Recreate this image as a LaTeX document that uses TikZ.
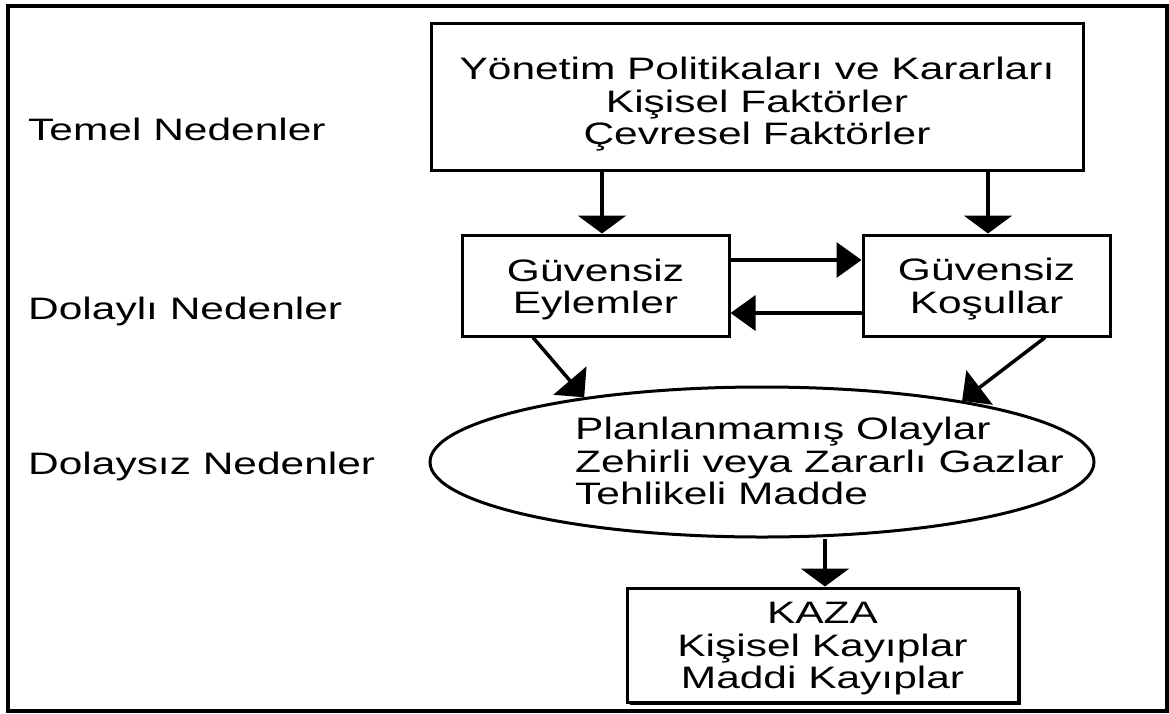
\documentclass[tikz,border=0pt]{standalone}
\usepackage{fontspec}
\setmainfont{Liberation Sans}[FakeStretch=1.37]
\usetikzlibrary{arrows.meta,shapes.geometric,shadows}
\newcommand\pushdn[1]{\rule{0pt}{#1}}
\begin{document}
\begin{tikzpicture}[x=1pt,y=-1pt,
  txt/.style={font=\fontsize{31}{32.5}\selectfont, inner sep=0pt},
  boxnode/.style={txt, draw, line width=3pt, align=center},
  arrV/.style={line width=3.5pt, -{Triangle[width=48pt,length=18pt]}},
  arrH/.style={line width=3.5pt, -{Triangle[width=35pt,length=25pt]}},
  arrD/.style={line width=3.5pt, -{Triangle[width=43pt,length=22pt]}},
  lbl/.style={txt, anchor=base west}]
\useasboundingbox (0,0) rectangle (1169,713);
\draw[line width=4pt] (8,5.5) rectangle (1167,711);

\node[boxnode, minimum width=652pt, minimum height=147pt] (top) at (757,96.5)
  {\pushdn{38pt}Yönetim Politikaları ve Kararları\\Kişisel Faktörler\\Çevresel Faktörler};
\node[boxnode, minimum width=267pt, minimum height=101pt] (eyl) at (595.5,285.5)
  {\pushdn{30pt}Güvensiz\\Eylemler};
\node[boxnode, minimum width=247pt, minimum height=101pt] (kos) at (986.5,285.5)
  {\pushdn{30pt}Güvensiz\\Koşullar};
\node[draw, ellipse, line width=3pt, minimum width=664pt, minimum height=150pt, inner sep=0pt] (ell) at (762,462) {};
\node[txt, align=left, anchor=west] (elltxt) at (575,461)
  {Planlanmamış Olaylar\\Zehirli veya Zararlı Gazlar\\Tehlikeli Madde};
\node[boxnode, fill=white, minimum width=391pt, minimum height=114pt,
  drop shadow={shadow xshift=3pt, shadow yshift=-3pt, opacity=1, fill=black}] (kaza) at (822.5,645)
  {\pushdn{29pt}KAZA\\Kişisel Kayıplar\\Maddi Kayıplar};

\node[lbl] (l1) at (28,140) {Temel Nedenler};
\node[lbl] (l2) at (28,319) {Dolaylı Nedenler};
\node[lbl] (l3) at (28,474) {Dolaysız Nedenler};

\coordinate (xa) at (602,0);
\coordinate (xb) at (988,0);
\coordinate (ya) at (0,260);
\coordinate (yb) at (0,313);
\coordinate (xc) at (533,0);
\coordinate (xd) at (1045,0);
\coordinate (xe) at (825,0);

\draw[arrV] (top.south -| xa) -- (eyl.north -| xa);
\draw[arrV] (top.south -| xb) -- (kos.north -| xb);
\draw[arrH] (eyl.east |- ya) -- (kos.west |- ya);
\draw[arrH] (kos.west |- yb) -- (eyl.east |- yb);
\draw[arrD] (eyl.south -| xc) -- (ell.160);
\draw[arrD] (kos.south -| xd) -- (ell.17);
\draw[arrV] (ell.south -| xe) -- (kaza.north -| xe);
\end{tikzpicture}
\end{document}
